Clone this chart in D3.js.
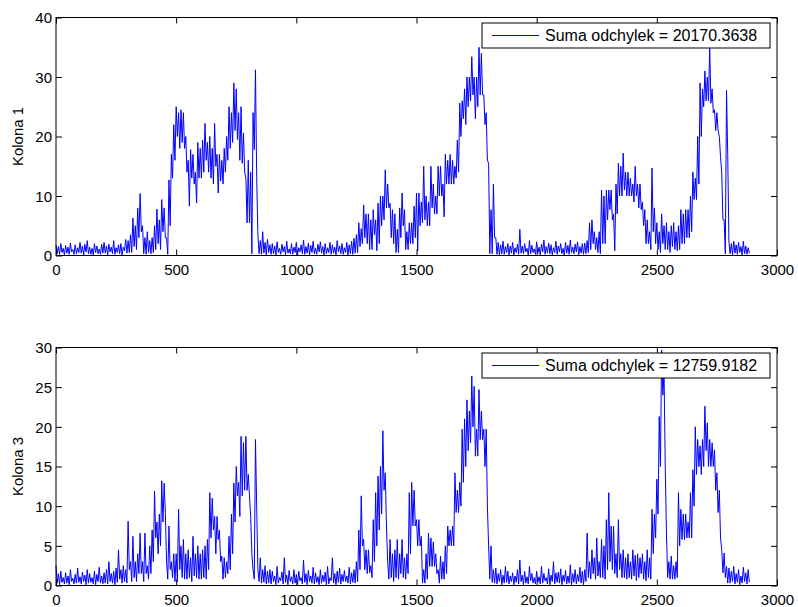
<!DOCTYPE html>
<html><head><meta charset="utf-8">
<script src="https://cdn.jsdelivr.net/npm/d3@7/dist/d3.min.js"></script>
<style>body{margin:0;background:#fff}svg text{font-family:"Liberation Sans",Arial,Helvetica,sans-serif;fill:#000}</style>
</head><body><svg id="c" width="798" height="607"></svg>
<script>
// Each series is read as the upper and lower value inside consecutive 10-unit bins (x = 0,10,20,...)
const binWidth = 10;

const kolona1Hi = [
 1.8,1.5,2.0,1.2,1.7,1.4,2.1,1.0,1.8,1.3,
 2.2,1.6,1.9,2.5,1.4,1.2,2.0,1.6,1.1,1.9,
 2.2,1.6,1.9,1.4,2.5,1.3,1.8,2.0,1.4,2.7,
 2.5,3.5,6.3,5.0,8.0,10.4,5.0,3.0,4.0,2.5,
 3.0,5.0,7.8,6.0,9.4,8.0,3.0,12.7,17.0,22.0,
 25.0,24.0,24.5,24.0,20.0,16.0,17.8,17.0,14.0,19.0,
 18.0,19.4,22.2,19.0,20.0,18.0,22.2,17.0,17.0,16.0,
 18.0,20.0,25.0,24.0,29.0,28.0,24.0,25.0,20.6,13.0,
 16.0,14.0,24.0,31.2,3.5,2.5,4.0,2.2,2.7,1.8,
 2.0,1.6,2.3,1.2,1.9,1.5,2.4,1.1,2.0,1.4,
 2.2,1.3,1.8,2.6,1.5,2.1,1.7,2.4,1.2,1.9,
 2.3,1.5,2.0,1.3,2.2,1.8,1.4,2.5,1.6,2.0,
 1.3,2.2,1.8,2.4,2.9,3.5,5.5,4.5,8.5,7.0,
 7.0,6.0,7.7,6.0,8.8,10.0,10.0,14.4,12.0,8.8,
 7.7,7.0,4.4,8.0,10.5,7.7,4.0,5.5,5.5,8.3,
 10.5,10.5,9.0,15.0,10.0,9.0,15.0,12.0,10.0,15.0,
 15.0,12.0,17.0,16.0,17.0,16.0,15.0,19.4,25.6,26.0,
 28.0,30.0,30.0,33.4,30.0,30.0,35.0,34.0,27.0,24.0,
 15.5,7.7,12.0,3.0,2.2,1.8,2.4,1.5,2.0,1.6,
 2.2,1.3,1.9,4.4,1.6,2.0,1.2,2.5,1.7,1.1,
 2.3,1.4,1.9,2.6,1.5,2.1,1.8,1.3,2.4,1.6,
 2.0,1.2,2.2,1.7,2.6,1.4,1.9,2.3,1.5,2.0,
 2.1,2.5,5.5,6.0,4.0,3.0,4.0,11.0,10.0,11.0,
 11.0,11.0,7.0,12.0,15.5,15.0,17.2,14.0,14.0,13.0,
 12.0,15.0,12.0,12.0,9.0,7.7,6.0,4.0,14.7,8.0,
 5.5,4.0,7.0,5.0,5.5,4.0,5.0,5.5,4.0,5.0,
 7.7,7.0,7.7,7.7,10.0,14.0,13.0,20.0,29.0,28.0,
 31.0,30.0,35.0,28.0,24.5,24.0,20.0,14.0,6.0,27.8,
 2.2,2.0,2.4,1.8,2.2,1.5,2.4,1.6,1.3
];
const kolona1Lo = [
 0.3,0.2,0.5,0.1,0.4,0.2,0.6,0.2,0.3,0.5,
 0.4,0.1,0.6,0.3,0.2,0.1,0.5,0.3,0.2,0.4,
 0.4,0.1,0.6,0.3,0.2,0.5,0.3,0.1,0.8,0.4,
 0.5,0.5,1.5,1.0,3.0,4.0,0.3,0.2,0.5,0.3,
 0.5,1.0,2.0,1.0,4.0,3.0,0.2,5.0,13.0,16.0,
 20.0,18.0,19.0,18.0,14.0,8.3,13.0,12.0,8.8,13.0,
 13.0,14.0,16.0,14.0,13.0,12.0,15.0,10.5,12.5,12.0,
 14.0,16.0,18.0,19.0,21.0,19.5,16.0,15.5,14.0,5.5,
 5.5,0.3,17.8,13.3,0.3,0.2,0.4,0.1,0.5,0.2,
 0.3,0.1,0.5,0.2,0.6,0.1,0.4,0.3,0.2,0.5,
 0.1,0.6,0.3,0.2,0.4,0.1,0.5,0.3,0.2,0.6,
 0.4,0.1,0.3,0.5,0.2,0.4,0.1,0.6,0.3,0.2,
 0.5,0.1,0.3,0.2,0.4,0.5,1.5,2.0,3.0,2.0,
 1.0,1.0,3.5,0.8,2.0,5.0,6.0,8.0,8.0,3.0,
 2.0,0.5,0.5,3.0,5.0,1.0,1.0,2.0,2.0,3.0,
 0.8,5.0,5.5,6.0,5.0,5.0,8.0,7.0,7.0,10.0,
 10.0,6.5,12.0,12.0,12.0,12.0,13.0,14.0,20.0,23.0,
 22.0,25.0,26.0,27.0,23.0,25.0,27.0,27.0,22.0,16.0,
 0.3,0.3,3.0,0.2,0.1,0.3,0.2,0.5,0.1,0.4,
 0.1,0.5,0.2,0.4,0.3,0.6,0.1,0.3,0.5,0.2,
 0.4,0.1,0.6,0.2,0.4,0.3,0.1,0.5,0.2,0.6,
 0.3,0.1,0.4,0.2,0.5,0.3,0.6,0.1,0.4,0.2,
 0.3,0.5,1.0,2.0,1.0,0.5,0.3,2.0,2.0,6.0,
 7.7,6.0,0.8,7.0,10.0,10.0,11.0,10.0,10.0,10.0,
 9.0,10.0,8.0,7.7,5.0,2.0,2.0,1.0,4.0,2.0,
 1.0,0.5,2.0,1.0,1.0,0.5,1.5,1.0,0.8,1.0,
 2.0,2.0,3.0,3.0,4.0,9.4,9.4,12.0,20.0,25.0,
 26.0,26.0,25.6,24.0,21.0,21.0,16.6,6.0,0.3,17.0,
 0.3,0.1,0.4,0.2,0.5,0.1,0.3,0.2,0.4
];

const kolona3Hi = [
 2.5,1.5,1.8,1.0,1.6,1.2,2.0,0.9,1.4,2.2,
 1.1,1.7,1.3,2.0,1.5,1.0,1.8,1.4,2.3,1.2,
 1.6,2.0,3.0,1.5,1.8,2.2,4.5,2.0,2.5,2.0,
 8.1,3.0,6.2,3.0,4.0,6.6,3.0,6.6,2.5,5.0,
 7.0,11.9,8.0,9.0,13.2,12.9,3.0,7.5,3.0,4.0,
 4.0,9.6,5.0,5.8,4.0,4.5,3.5,6.2,4.0,5.0,
 4.0,4.5,5.0,5.8,11.7,11.0,8.7,8.7,7.0,3.7,
 3.5,3.0,6.2,9.0,12.9,15.0,13.0,18.8,18.0,18.8,
 14.0,8.7,2.0,18.4,2.0,3.5,2.0,2.5,1.8,2.0,
 1.8,1.2,2.4,1.0,1.7,3.5,1.3,1.9,1.1,2.0,
 1.4,1.8,1.0,3.2,1.5,1.9,1.2,2.3,1.6,1.1,
 2.0,1.3,1.7,2.4,1.0,3.5,1.5,1.8,2.2,1.4,
 1.9,1.2,2.3,1.6,2.0,3.0,7.0,11.3,5.8,4.5,
 4.5,2.5,8.3,11.7,13.8,15.0,19.5,14.2,3.0,5.8,
 4.0,4.5,5.8,4.0,5.8,3.5,4.0,11.7,13.0,12.0,
 8.3,8.3,6.2,2.0,4.0,6.6,6.0,5.5,4.0,2.0,
 3.7,3.0,5.0,7.5,7.0,7.5,14.2,12.0,13.0,19.7,
 21.0,23.4,22.0,26.4,25.1,19.7,24.7,22.0,19.7,19.7,
 5.0,5.0,2.0,2.2,1.5,2.0,1.3,2.4,1.8,1.2,
 1.6,1.2,2.0,3.2,1.3,1.8,1.1,2.4,1.5,1.0,
 1.8,1.1,2.4,1.5,1.0,2.1,1.3,3.0,1.6,1.7,
 2.1,1.3,1.9,1.2,2.6,1.5,2.0,1.4,2.3,1.8,
 2.0,6.6,3.0,4.5,3.5,6.0,3.0,5.8,5.0,8.3,
 11.7,7.5,7.5,4.0,8.3,4.0,4.5,3.5,4.0,3.0,
 4.5,3.8,4.0,3.5,4.0,3.0,4.5,3.5,9.6,9.0,
 13.4,21.3,29.7,26.8,6.6,3.0,3.7,2.5,3.0,11.7,
 9.6,9.0,9.0,8.0,11.7,14.6,20.0,18.4,17.6,18.4,
 22.6,20.5,18.4,18.0,17.1,14.2,12.0,4.5,4.1,2.4,
 2.2,1.8,2.4,1.5,2.0,1.2,2.3,1.6,2.0
];
const kolona3Lo = [
 0.3,0.1,0.4,0.2,0.3,0.1,0.5,0.2,0.3,0.4,
 0.2,0.5,0.1,0.3,0.4,0.2,0.1,0.5,0.3,0.2,
 0.3,0.2,0.5,0.3,0.1,0.4,0.8,0.3,0.5,0.3,
 2.0,0.5,1.0,0.5,1.5,1.5,0.5,1.5,0.8,1.5,
 3.0,6.0,4.0,5.0,8.0,9.2,0.8,2.0,1.0,0.5,
 0.5,2.0,1.0,0.8,0.8,1.0,0.5,1.2,1.0,0.8,
 0.8,1.0,0.8,2.0,6.0,7.0,4.0,5.8,3.0,0.8,
 1.0,1.5,2.0,4.0,8.0,11.3,8.7,11.3,12.0,12.0,
 11.3,4.0,0.8,10.0,0.5,0.3,0.4,0.2,0.3,0.2,
 0.5,0.1,0.3,0.6,0.2,0.4,0.1,0.5,0.2,0.3,
 0.1,0.6,0.2,0.4,0.1,0.5,0.3,0.2,0.4,0.1,
 0.3,0.5,0.1,0.2,0.6,0.3,0.1,0.4,0.2,0.5,
 0.5,0.3,0.2,0.4,0.3,0.5,2.0,5.0,2.0,1.5,
 1.6,1.0,3.0,5.0,7.0,9.0,12.0,7.5,0.8,1.0,
 0.5,1.0,0.8,1.5,1.0,0.8,1.5,4.0,7.5,7.5,
 5.0,5.0,0.3,0.3,0.8,2.4,2.4,2.4,1.5,0.3,
 0.8,0.8,1.5,5.0,5.0,5.0,9.2,9.2,10.0,13.0,
 15.0,17.0,18.0,20.0,16.3,16.3,18.4,18.4,15.0,10.0,
 0.8,0.4,0.3,0.2,0.5,0.1,0.3,0.4,0.2,0.5,
 0.1,0.4,0.2,0.5,0.1,0.3,0.2,0.6,0.3,0.2,
 0.4,0.2,0.3,0.6,0.2,0.1,0.5,0.2,0.4,0.3,
 0.1,0.5,0.2,0.3,0.1,0.4,0.2,0.5,0.3,0.1,
 0.5,1.0,0.8,1.5,0.8,1.2,1.0,1.0,0.8,2.0,
 3.0,2.0,1.5,1.0,2.0,1.0,1.0,0.8,1.0,0.8,
 1.2,0.6,1.0,1.5,0.8,0.6,1.0,0.8,4.0,6.0,
 9.0,15.0,24.0,15.0,1.0,0.8,0.8,0.8,1.0,5.0,
 5.8,5.8,6.0,6.0,6.0,10.0,14.0,15.0,14.0,15.0,
 17.0,15.0,15.0,15.0,12.0,9.2,6.0,1.6,1.0,0.3,
 0.3,0.5,0.2,0.4,0.1,0.3,0.5,0.2,0.4
];

const xTicks = [0, 500, 1000, 1500, 2000, 2500, 3000];
const yTicks1 = [0, 10, 20, 30, 40];
const yTicks3 = [0, 5, 10, 15, 20, 25, 30];
const yLabels = ["Kolona 1", "Kolona 3"];
const legendTexts = ["Suma odchylek = 20170.3638", "Suma odchylek = 12759.9182"];

const svg = d3.select("#c");
const L = 56, R = 777;

function toPoints(hi, lo) {
  const pts = [];
  hi.forEach((h, i) => {
    pts.push([i * binWidth, h]);
    pts.push([i * binWidth + binWidth / 2, lo[i]]);
  });
  return pts;
}

function panel(hi, lo, yMax, yTicks, ylabel, legendText, top, bottom) {
  const x = d3.scaleLinear().domain([0, 3000]).range([L, R]);
  const y = d3.scaleLinear().domain([0, yMax]).range([bottom, top]);
  const g = svg.append("g");

  const line = d3.line().x(d => x(d[0])).y(d => y(d[1]));
  g.append("path").datum(toPoints(hi, lo)).attr("d", line)
    .attr("fill", "none").attr("stroke", "#0000ff").attr("stroke-width", 1)
    .attr("stroke-linejoin", "round");

  const tk = 6, fmt = d3.format("d");
  const ab = g.append("g").attr("transform", `translate(0,${bottom})`)
    .call(d3.axisBottom(x).tickValues(xTicks).tickFormat(fmt).tickSizeInner(-tk).tickSizeOuter(0).tickPadding(0));
  ab.selectAll("text").attr("y", 19).attr("dy", null).style("font-size", "15px");
  const at = g.append("g").attr("transform", `translate(0,${top})`)
    .call(d3.axisTop(x).tickValues(xTicks).tickSizeInner(-tk).tickSizeOuter(0));
  at.selectAll("text").remove();
  const al = g.append("g").attr("transform", `translate(${L},0)`)
    .call(d3.axisLeft(y).tickValues(yTicks).tickFormat(fmt).tickSizeInner(-tk).tickSizeOuter(0).tickPadding(0));
  al.selectAll("text").attr("x", -4).attr("dy", "0.36em").style("font-size", "15px");
  const ar = g.append("g").attr("transform", `translate(${R},0)`)
    .call(d3.axisRight(y).tickValues(yTicks).tickSizeInner(-tk).tickSizeOuter(0));
  ar.selectAll("text").remove();
  g.selectAll(".domain").remove();
  g.selectAll(".tick line").attr("stroke", "#000");

  g.append("rect").attr("x", L).attr("y", top).attr("width", R - L).attr("height", bottom - top)
    .attr("fill", "none").attr("stroke", "#000").attr("stroke-width", 1);

  g.append("text").attr("transform", `translate(23,${(top + bottom) / 2}) rotate(-90)`)
    .attr("text-anchor", "middle").style("font-size", "15px").text(ylabel);

  const lx = 482, lw = 288, ly = top + 5.5, lh = 25;
  g.append("rect").attr("x", lx).attr("y", ly).attr("width", lw).attr("height", lh)
    .attr("fill", "#fff").attr("stroke", "#000").attr("stroke-width", 1);
  g.append("line").attr("x1", lx + 10).attr("x2", lx + 57).attr("y1", ly + 12.5).attr("y2", ly + 12.5)
    .attr("stroke", "#0000ff").attr("stroke-width", 1);
  g.append("text").attr("x", lx + 63).attr("y", ly + 18).style("font-size", "16px").text(legendText);
}

panel(kolona1Hi, kolona1Lo, 40, yTicks1, yLabels[0], legendTexts[0], 17.5, 255.5);
panel(kolona3Hi, kolona3Lo, 30, yTicks3, yLabels[1], legendTexts[1], 347.5, 585.5);
</script></body></html>
